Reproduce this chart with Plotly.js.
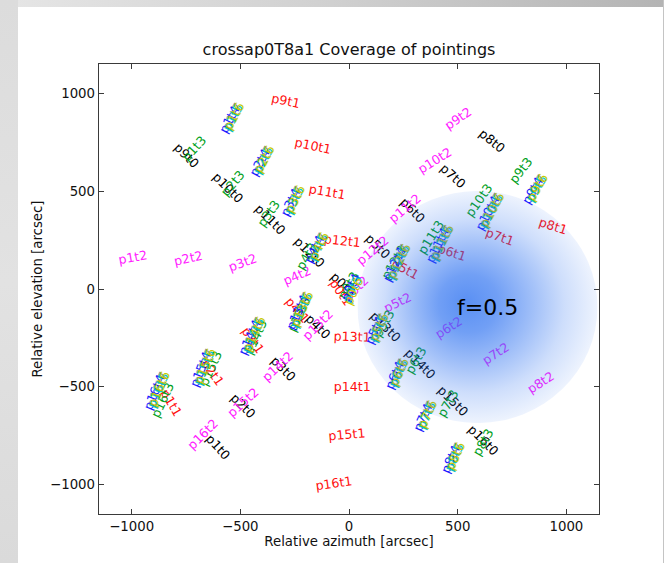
<!DOCTYPE html>
<html>
<head>
<meta charset="utf-8">
<script src="https://cdn.plot.ly/plotly-3.0.1.min.js"></script>
<style>
  html, body { margin: 0; padding: 0; background: #ffffff; }
  #wrap { position: relative; width: 664px; height: 563px; overflow: hidden; }
  #chart { position: absolute; left: 0; top: 0; width: 664px; height: 563px; }
  #topbar { position: absolute; left: 0; top: 0; width: 664px; height: 7px;
            background: linear-gradient(to right, #e6e6e6, #d0d0d0 50%, #b4b4b4); z-index: 5; }
  #leftbar { position: absolute; left: 0; top: 0; width: 18px; height: 563px;
             background: linear-gradient(to bottom, #dcdcdc, #e2e2e2 50%, #dadada); z-index: 5; }
  #rightline { position: absolute; right: 0; top: 0; width: 1px; height: 563px; background: #c4c4c4; z-index: 5; }
</style>
</head>
<body>
<div id="wrap">
  <div id="chart"></div>
  <div id="topbar"></div>
  <div id="leftbar"></div>
  <div id="rightline"></div>
</div>
<script>
// ---- data: labels of pointings (text, azimuth, elevation, text rotation) ----
const labelText = [
  // t1 (red)
  "p9t1","p10t1","p11t1","p12t1","p13t1","p14t1","p15t1","p16t1",
  "p8t1","p7t1","p6t1","p5t1","p4t1","p3t1","p2t1","p1t1",
  // t0 (black)
  "p9t0","p10t0","p11t0","p12t0","p13t0","p14t0","p15t0","p16t0",
  "p8t0","p7t0","p6t0","p5t0","p4t0","p3t0","p2t0","p1t0",
  // t2 (magenta)
  "p1t2","p2t2","p3t2","p4t2","p5t2","p6t2","p7t2","p8t2",
  "p9t2","p10t2","p11t2","p12t2","p13t2","p14t2","p15t2","p16t2",
  // t3 (green)
  "p1t3","p2t3","p3t3","p4t3","p5t3","p6t3","p7t3","p8t3",
  "p9t3","p10t3","p11t3","p12t3","p13t3","p14t3","p15t3","p16t3",
  // clusters t7 (gray), t4 (blue), t5 (cyan), t6 (yellow)
  "p1t7","p1t4","p1t5","p1t6",
  "p2t7","p2t4","p2t5","p2t6",
  "p3t7","p3t4","p3t5","p3t6",
  "p4t7","p4t4","p4t5","p4t6",
  "p5t7","p5t4","p5t5","p5t6",
  "p6t7","p6t4","p6t5","p6t6",
  "p7t7","p7t4","p7t5","p7t6",
  "p8t7","p8t4","p8t5","p8t6",
  "p9t7","p9t4","p9t5","p9t6",
  "p10t7","p10t4","p10t5","p10t6",
  "p11t7","p11t4","p11t5","p11t6",
  "p12t7","p12t4","p12t5","p12t6",
  "p13t7","p13t4","p13t5","p13t6",
  "p14t7","p14t4","p14t5","p14t6",
  "p15t7","p15t4","p15t5","p15t6",
  "p16t7","p16t4","p16t5","p16t6",
  // centre
  "p0t0","p0t1","p0t2","p0t3","p0t4","p0t5","p0t6"
];
const labelX = [
  -290,-165,-100,-30,15,15,-10,-70,
  940,695,475,260,-235,-440,-625,-815,
  -745,-555,-360,-180,170,330,480,620,
  660,480,295,135,-140,-300,-485,-600,
  -995,-740,-490,-240,222,457,673,880,
  500,393,255,107,-146,-330,-490,-675,
  -715,-537,-372,-197,158,305,452,614,
  788,595,374,204,-233,-432,-639,-860,
  -539,-553,-537,-531,
  -400,-414,-398,-392,
  -258,-272,-256,-250,
  -148,-162,-146,-140,
  129,115,131,137,
  221,207,223,229,
  351,337,353,359,
  479,465,481,487,
  856,842,858,864,
  648,634,650,656,
  418,404,420,426,
  220,206,222,228,
  -226,-240,-224,-218,
  -446,-460,-444,-438,
  -672,-686,-670,-664,
  -884,-898,-882,-876,
  -25,-35,30,-5,5,12,18
];
const labelY = [
  965,735,500,250,-240,-495,-740,-990,
  325,270,190,105,-105,-260,-425,-580,
  685,520,358,190,-190,-380,-570,-770,
  760,580,405,220,-190,-405,-595,-805,
  165,160,138,72,-66,-194,-327,-475,
  875,660,415,200,-180,-393,-577,-740,
  720,542,388,169,-174,-363,-583,-782,
  608,455,266,138,-128,-245,-404,-567,
  883,869,879,885,
  663,649,659,665,
  459,445,455,461,
  219,205,215,221,
  -195,-209,-199,-193,
  -425,-439,-429,-423,
  -640,-654,-644,-638,
  -854,-868,-858,-852,
  519,505,515,521,
  404,390,400,406,
  239,225,235,241,
  142,128,138,144,
  -103,-117,-107,-101,
  -231,-245,-235,-229,
  -395,-409,-399,-393,
  -512,-526,-516,-510,
  25,-15,5,20,10,0,-10
];
const labelAngle = [
  12,12,10,6,2,0,-5,-8,
  18,20,18,28,50,55,55,60,
  45,45,45,45,45,45,45,45,
  40,42,45,45,45,45,45,48,
  -10,-12,-20,-24,-26,-32,-33,-33,
  -34,-32,-40,-40,-45,-43,-42,-45,
  -48,-50,-55,-60,-60,-60,-60,-60,
  -52,-55,-58,-60,-65,-65,-65,-65,
  -62,-62,-62,-62, -62,-62,-62,-62, -64,-64,-64,-64, -64,-64,-64,-64,
  -66,-66,-66,-66, -66,-66,-66,-66, -66,-66,-66,-66, -66,-66,-66,-66,
  -60,-60,-60,-60, -62,-62,-62,-62, -64,-64,-64,-64, -64,-64,-64,-64,
  -66,-66,-66,-66, -66,-66,-66,-66, -68,-68,-68,-68, -68,-68,-68,-68,
  45,55,-45,-60,-65,-65,-65
];
const xTicks = [-1000, -500, 0, 500, 1000];
const yTicks = [-1000, -500, 0, 500, 1000];
const beamCentre = [591, -92];      // arcsec
const beamRadius = [552, 593];      // arcsec (x, y)
const beamText = "f=0.5";

// ---- style ----
const tColors = {
  "0": "#000000", "1": "#ff1010", "2": "#ff22ff", "3": "#00a020",
  "4": "#1a1aff", "5": "#00c8c8", "6": "#c8c800", "7": "#8c8c8c"
};
const FONT = "DejaVu Sans, Verdana, sans-serif";

// pointing labels: drawn as invisible shapes carrying a rotated label (layer below the beam)
const shapes = labelText.map((t, i) => ({
  type: "rect", xref: "x", yref: "y", layer: "below",
  x0: labelX[i] - 1, x1: labelX[i] + 1, y0: labelY[i] - 1, y1: labelY[i] + 1,
  line: { width: 0, color: "rgba(0,0,0,0)" }, fillcolor: "rgba(0,0,0,0)",
  label: {
    text: t, textangle: labelAngle[i], textposition: "middle center",
    xanchor: "center", yanchor: "middle", padding: 0,
    font: { family: FONT, size: 12.6, color: tColors[t.split("t")[1]] }
  }
}));

const annotations = [{
  text: beamText, x: beamCentre[0] + 46, y: beamCentre[1], xref: "x", yref: "y",
  showarrow: false, xanchor: "center", yanchor: "middle",
  font: { family: FONT, size: 22, color: "#000000" }
}];

const svg = "<svg xmlns='http://www.w3.org/2000/svg' viewBox='0 0 100 100' preserveAspectRatio='none'>" +
  "<defs><radialGradient id='g' cx='50%' cy='50%' r='50%' fx='45%' fy='48%'>" +
  "<stop offset='0' stop-color='#286ef0' stop-opacity='0.77'/>" +
  "<stop offset='0.25' stop-color='#286ef0' stop-opacity='0.66'/>" +
  "<stop offset='0.5' stop-color='#286ef0' stop-opacity='0.45'/>" +
  "<stop offset='0.75' stop-color='#286ef0' stop-opacity='0.23'/>" +
  "<stop offset='1' stop-color='#286ef0' stop-opacity='0.08'/>" +
  "</radialGradient></defs>" +
  "<ellipse cx='50' cy='50' rx='50' ry='50' fill='url(#g)'/></svg>";

const axisCommon = {
  range: [-1150, 1150], autorange: false,
  showgrid: false, zeroline: false,
  showline: true, linecolor: "#3a3a3a", linewidth: 1.3, mirror: "ticks",
  ticks: "inside", ticklen: 5, tickwidth: 1, tickcolor: "#3a3a3a",
  tickmode: "array",
  tickfont: { family: FONT, size: 13.3, color: "#111111" }
};

const layout = {
  width: 664, height: 563,
  margin: { l: 99, r: 65, t: 64, b: 49 },
  paper_bgcolor: "#ffffff", plot_bgcolor: "#ffffff",
  showlegend: false,
  title: {
    text: "crossap0T8a1 Coverage of pointings",
    x: 0.5, xref: "paper", xanchor: "center",
    y: 1 - 49 / 563, yref: "container", yanchor: "middle",
    font: { family: FONT, size: 16, color: "#111111" }
  },
  xaxis: Object.assign({}, axisCommon, {
    tickvals: xTicks,
    title: { text: "Relative azimuth [arcsec]", standoff: 0,
             font: { family: FONT, size: 13.3, color: "#111111" } }
  }),
  yaxis: Object.assign({}, axisCommon, {
    tickvals: yTicks,
    title: { text: "Relative elevation [arcsec]", standoff: 4,
             font: { family: FONT, size: 13.3, color: "#111111" } }
  }),
  images: [{
    source: "data:image/svg+xml;charset=utf-8," + encodeURIComponent(svg),
    xref: "x", yref: "y",
    x: beamCentre[0] - beamRadius[0], y: beamCentre[1] + beamRadius[1],
    sizex: 2 * beamRadius[0], sizey: 2 * beamRadius[1],
    xanchor: "left", yanchor: "top", sizing: "stretch", layer: "above", opacity: 1
  }],
  shapes: shapes,
  annotations: annotations
};

Plotly.newPlot("chart", [{ x: [], y: [], type: "scatter", mode: "markers", hoverinfo: "skip" }],
  layout, { displayModeBar: false, staticPlot: true });
</script>
</body>
</html>
